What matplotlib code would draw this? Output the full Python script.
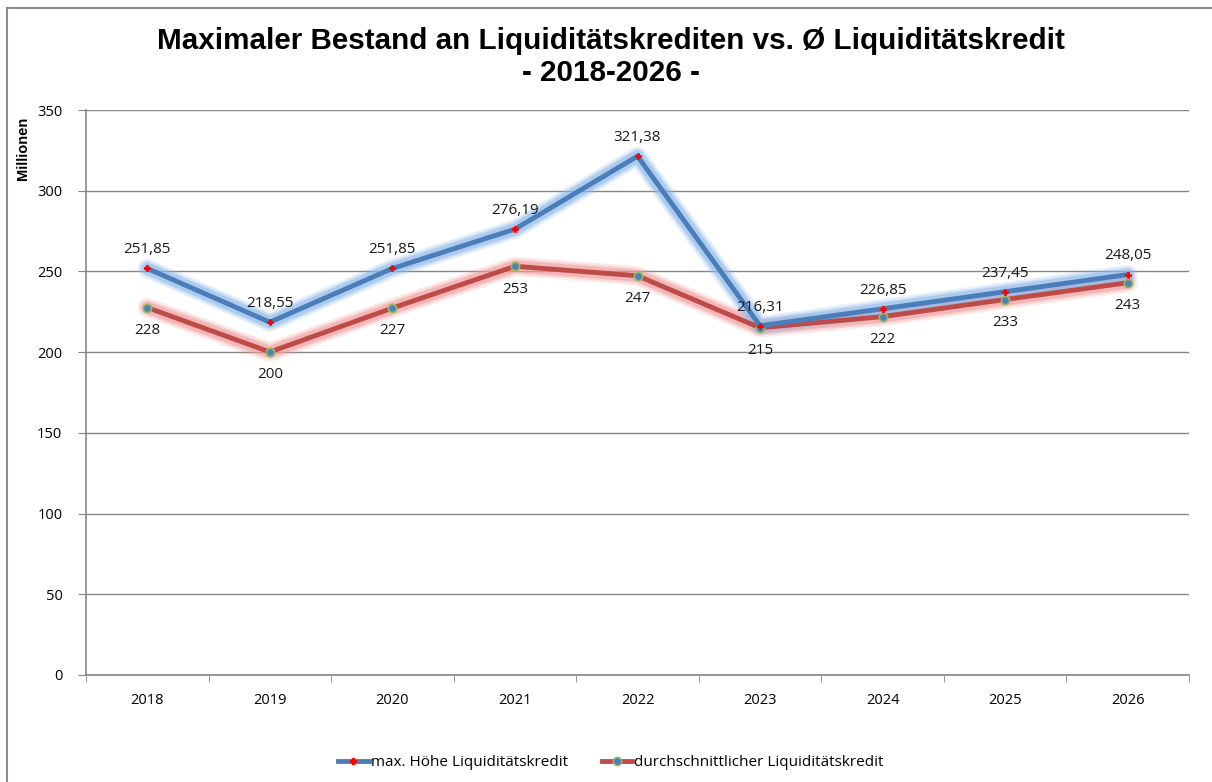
import matplotlib
matplotlib.use("Agg")
from matplotlib import pyplot as plt
from matplotlib.lines import Line2D
import numpy as np

# chart data
years = ["2018", "2019", "2020", "2021", "2022", "2023", "2024", "2025", "2026"]
max_hoehe = [251.85, 218.55, 251.85, 276.19, 321.38, 216.31, 226.85, 237.45, 248.05]
durchschnitt = [227.6, 200.1, 227.3, 253.2, 247.3, 215.1, 222.0, 232.6, 243.0]
yticks = [0, 50, 100, 150, 200, 250, 300, 350]

blue = "#4A7EBB"
blue_glow = "#8DB8EA"
red = "#BE4B48"
red_glow = "#F29C9C"
grid_col = "#868686"
label_font = "Open Sans"

fig = plt.figure(figsize=(12.12, 7.82), dpi=100)
ax = fig.add_axes([86 / 1212, 1 - 675 / 782, (1189 - 86) / 1212, 565 / 782])

x = np.arange(len(years))

def glow_line(xs, ys, glow):
    for w, a in [(14, 0.2), (11, 0.3), (8.5, 0.5)]:
        ax.plot(xs, ys, color=glow, lw=w, alpha=a, solid_capstyle="round",
                solid_joinstyle="round", zorder=2)

glow_line(x, durchschnitt, red_glow)
glow_line(x, max_hoehe, blue_glow)
ax.plot(x, durchschnitt, color=red, lw=3.5, zorder=3, solid_joinstyle="round",
        marker="o", markersize=6, markerfacecolor="#4F81BD",
        markeredgecolor="#9BBB59", markeredgewidth=1.2)
ax.plot(x, max_hoehe, color=blue, lw=3.5, zorder=4, solid_joinstyle="round",
        marker="P", markersize=5, markerfacecolor="red", markeredgecolor="red",
        markeredgewidth=0.5)

for xi, v in zip(x, max_hoehe):
    ax.annotate(f"{v:.2f}".replace(".", ","), (xi, v), xytext=(0, 8),
                textcoords="offset points", ha="center", va="bottom",
                fontsize=11, family=label_font, color="#1a1a1a", zorder=5)
for xi, v in zip(x, durchschnitt):
    ax.annotate(f"{v:.0f}", (xi, v), xytext=(0, -11),
                textcoords="offset points", ha="center", va="top",
                fontsize=11, family=label_font, color="#1a1a1a", zorder=5)

ax.set_xlim(-0.5, len(years) - 0.5)
ax.set_ylim(0, 350)
ax.set_yticks(yticks)
ax.set_yticklabels([str(t) for t in yticks], family=label_font, fontsize=10.5)
ax.set_xticks(x)
ax.set_xticklabels(years, family=label_font, fontsize=10.5)
ax.set_xticks(np.arange(-0.5, len(years)), minor=True)
ax.tick_params(axis="x", which="major", length=0, pad=13)
ax.tick_params(axis="x", which="minor", length=5, color=grid_col, direction="out")
ax.tick_params(axis="y", length=6, color=grid_col, pad=11)
ax.yaxis.grid(True, color=grid_col, lw=1)
ax.set_axisbelow(True)
for s in ["top", "right"]:
    ax.spines[s].set_visible(False)
for s in ["left", "bottom"]:
    ax.spines[s].set_color(grid_col)
    ax.spines[s].set_linewidth(1.2)

fig.text(23 / 1212, 1 - 148 / 782, "Millionen", rotation=90, ha="center",
         va="center", fontsize=10.5, fontweight="bold", family="Liberation Sans")

fig.text(611 / 1212, 1 - 41 / 782,
         "Maximaler Bestand an Liquiditätskrediten vs. Ø Liquiditätskredit",
         ha="center", va="center", fontsize=21.3, fontweight="bold",
         family="Liberation Sans")
fig.text(611 / 1212, 1 - 73 / 782, "- 2018-2026 -", ha="center", va="center",
         fontsize=21.3, fontweight="bold", family="Liberation Sans")

handles = [
    Line2D([], [], color=blue, lw=3.5, marker="P", markersize=5,
           markerfacecolor="red", markeredgecolor="red"),
    Line2D([], [], color=red, lw=3.5, marker="o", markersize=6,
           markerfacecolor="#4F81BD", markeredgecolor="#9BBB59"),
]
fig.legend(handles, ["max. Höhe Liquiditätskredit", "durchschnittlicher Liquiditätskredit"],
           loc="center", bbox_to_anchor=(611 / 1212, 1 - 763 / 782), ncol=2,
           frameon=False, prop={"family": label_font, "size": 11},
           handlelength=2.0, handletextpad=0.15, columnspacing=2.2)

# outer chart frame (top and left edges visible)
fig.add_artist(Line2D([7 / 1212, 1], [1 - 8 / 782, 1 - 8 / 782],
                      transform=fig.transFigure, color="#8c8c8c", lw=1.5))
fig.add_artist(Line2D([7 / 1212, 7 / 1212], [0, 1 - 8 / 782],
                      transform=fig.transFigure, color="#8c8c8c", lw=1.5))

fig.savefig("out.png", dpi=100)
